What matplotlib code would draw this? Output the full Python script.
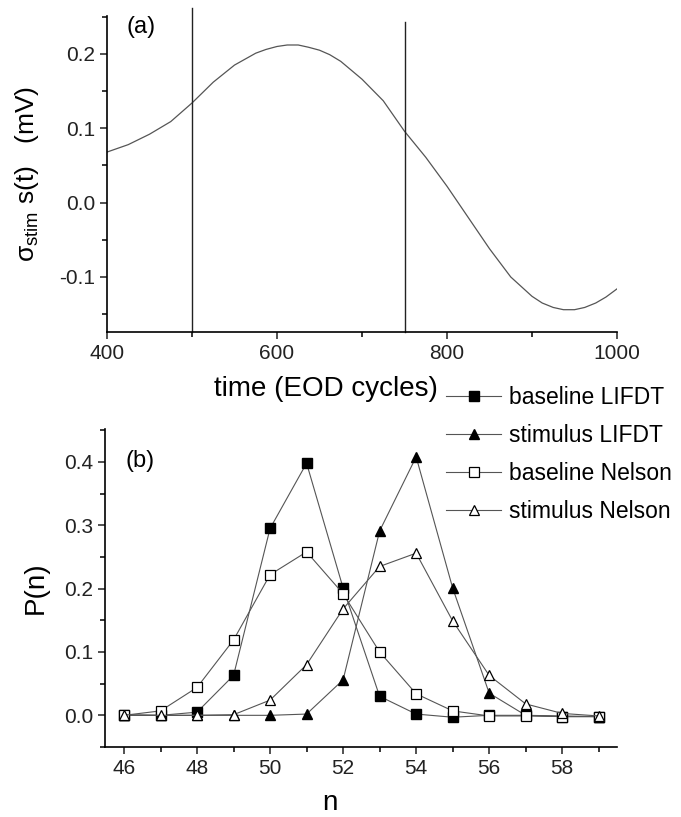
import numpy as np
import matplotlib
matplotlib.use("Agg")
from matplotlib import pyplot as plt
from matplotlib.ticker import MultipleLocator

plt.rcParams['font.family'] = ['Liberation Sans', 'DejaVu Sans']
plt.rcParams['mathtext.fontset'] = 'custom'
plt.rcParams['mathtext.rm'] = 'Liberation Sans'
plt.rcParams['mathtext.it'] = 'Liberation Sans:italic'

# panel (a): stimulus waveform
t = [400, 425, 450, 475, 500, 525, 550, 575, 587, 600, 612, 625, 637, 650,
     662, 675, 700, 725, 750, 775, 800, 825, 850, 875, 900, 912, 925, 937,
     950, 962, 975, 987, 1000]
s = [0.068, 0.078, 0.092, 0.109, 0.134, 0.162, 0.185, 0.201, 0.206, 0.210,
     0.212, 0.212, 0.209, 0.205, 0.199, 0.190, 0.166, 0.137, 0.096, 0.061,
     0.022, -0.020, -0.062, -0.100, -0.126, -0.135, -0.141, -0.144, -0.144,
     -0.141, -0.135, -0.127, -0.116]
window = [500, 750]
window_top = [0.262, 0.243]

# panel (b): spike count distributions
n = [46, 47, 48, 49, 50, 51, 52, 53, 54, 55, 56, 57, 58, 59]
base_lifdt = [0.0, 0.0, 0.005, 0.063, 0.295, 0.398, 0.201, 0.030, 0.002,
              -0.003, 0.0, 0.0, -0.002, -0.002]
stim_lifdt = [0.0, 0.0, 0.0, 0.0, 0.0, 0.002, 0.056, 0.291, 0.408, 0.201,
              0.035, 0.0, -0.001, -0.002]
base_nelson = [0.0, 0.007, 0.044, 0.119, 0.222, 0.258, 0.192, 0.100, 0.034,
               0.007, -0.001, -0.001, -0.002, -0.002]
stim_nelson = [0.001, 0.0, 0.0, 0.001, 0.024, 0.080, 0.168, 0.235, 0.256,
               0.149, 0.063, 0.018, 0.003, -0.001]
labels = ['baseline LIFDT', 'stimulus LIFDT', 'baseline Nelson', 'stimulus Nelson']

W, H = 681, 817
fig = plt.figure(figsize=(W/100, H/100), dpi=100)


def style(ax):
    for sp in ['top', 'right']:
        ax.spines[sp].set_visible(False)
    for sp in ['left', 'bottom']:
        ax.spines[sp].set_linewidth(1.2)
    ax.tick_params(which='major', direction='out', length=5, width=1.1,
                   labelsize=15, colors='#222222')
    ax.tick_params(which='minor', direction='out', length=3.5, width=1.1)


# top panel
ax1 = fig.add_axes([107/W, 1-332/H, 510/W, 316/H])
style(ax1)
ax1.plot(t, s, color='#555555', lw=0.9)
for x0, y1 in zip(window, window_top):
    ax1.plot([x0, x0], [-0.174, y1], color='#222222', lw=1.0, clip_on=False)
ax1.set_xlim(400, 1000)
ax1.set_ylim(-0.174, 0.251)
ax1.xaxis.set_major_locator(MultipleLocator(200))
ax1.xaxis.set_minor_locator(MultipleLocator(100))
ax1.yaxis.set_major_locator(MultipleLocator(0.1))
ax1.yaxis.set_minor_locator(MultipleLocator(0.05))
ax1.yaxis.set_major_formatter(plt.FormatStrFormatter('%.1f'))
ax1.set_xlabel('time (EOD cycles)', fontsize=20)
ax1.xaxis.set_label_coords(0.43, -0.14)
ax1.set_ylabel(r'σ$_{\mathrm{stim}}$ s(t)   (mV)', fontsize=19)
ax1.yaxis.set_label_coords(-0.13, 0.5)
ax1.text(0.066, 0.965, '(a)', transform=ax1.transAxes, fontsize=17,
         ha='center', va='center')

# bottom panel
ax2 = fig.add_axes([105/W, 1-747/H, 512/W, 318/H])
style(ax2)
lc = '#555555'
h1, = ax2.plot(n, base_lifdt, '-s', color=lc, lw=0.8, mfc='black', mec='black', ms=6.5)
h2, = ax2.plot(n, stim_lifdt, '-^', color=lc, lw=0.8, mfc='black', mec='black', ms=7)
h3, = ax2.plot(n, base_nelson, '-s', color=lc, lw=0.8, mfc='white', mec='black', ms=6.5, mew=0.9)
h4, = ax2.plot(n, stim_nelson, '-^', color=lc, lw=0.8, mfc='white', mec='black', ms=7, mew=0.9)
ax2.set_xlim(45.48, 59.5)
ax2.set_ylim(-0.05, 0.452)
ax2.xaxis.set_major_locator(MultipleLocator(2))
ax2.xaxis.set_minor_locator(MultipleLocator(1))
ax2.yaxis.set_major_locator(MultipleLocator(0.1))
ax2.yaxis.set_minor_locator(MultipleLocator(0.05))
ax2.yaxis.set_major_formatter(plt.FormatStrFormatter('%.1f'))
ax2.set_xlabel('n', fontsize=20)
ax2.xaxis.set_label_coords(0.44, -0.135)
ax2.set_ylabel('P(n)', fontsize=20)
ax2.yaxis.set_label_coords(-0.11, 0.5)
ax2.text(0.068, 0.9, '(b)', transform=ax2.transAxes, fontsize=17,
         ha='center', va='center')

fig.legend([h1, h2, h3, h4], labels, loc='upper left',
           bbox_to_anchor=(446/W, 1-386/H), frameon=False, fontsize=16.5,
           handlelength=2.4, handletextpad=0.35, labelspacing=0.66,
           borderpad=0, borderaxespad=0)

fig.savefig('out.png', dpi=100)
